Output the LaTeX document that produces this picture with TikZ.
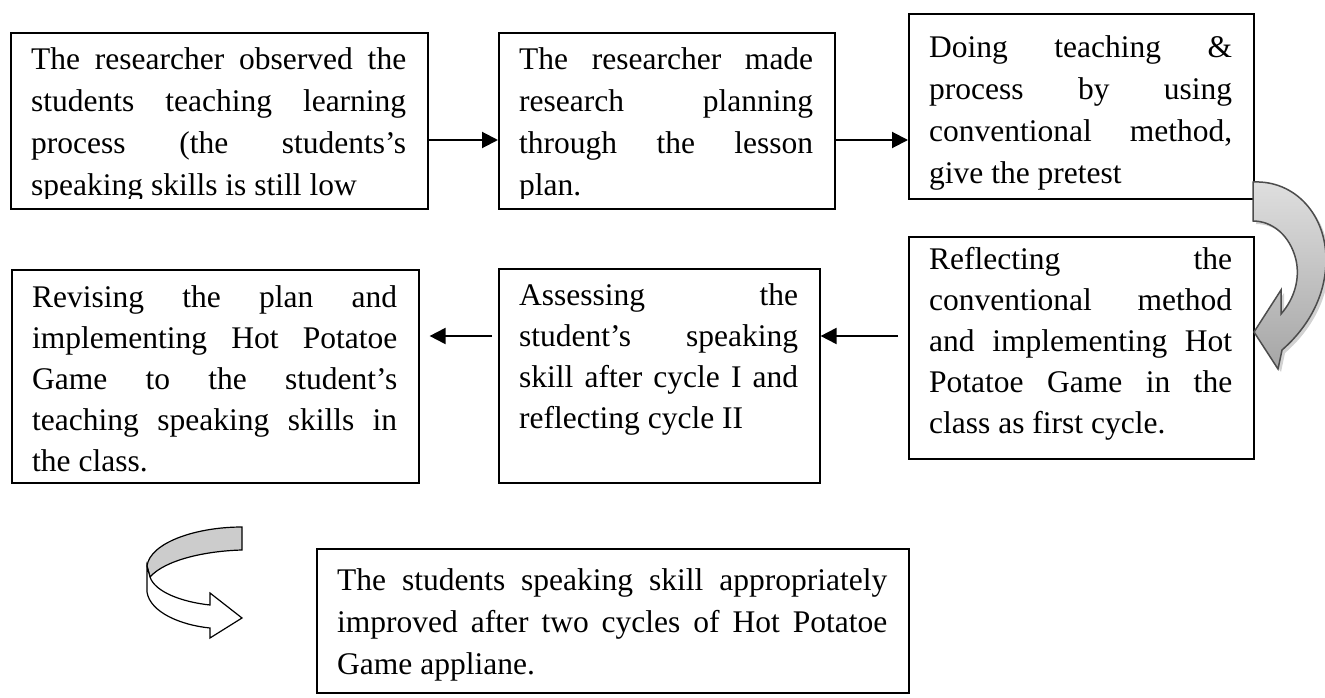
\documentclass[tikz,border=0pt]{standalone}
\usepackage{fontspec}
\setmainfont{Liberation Serif}
\usetikzlibrary{calc}
\usetikzlibrary{arrows.meta}

\tikzset{
  stagebox/.style={draw=black,line width=1.6pt,inner sep=0pt,anchor=north west},
  stagetext/.style={anchor=base west,inner sep=0pt,align=justify,
    font=\fontsize{31.5}{42}\selectfont},
  flow/.style={line width=2pt,-{Triangle[length=16pt,width=16pt]}}
}

\begin{document}
\begin{tikzpicture}[x=1pt,y=-1pt]
    \useasboundingbox (0,0) rectangle (1325,698);
    \coordinate (Row1) at (0,140);
    \coordinate (Row2) at (0,336);
    % boxes
    \node[stagebox,minimum width=417pt,minimum height=176pt] (Observe) at (10,32) {};
    \node[stagebox,minimum width=336pt,minimum height=176pt] (Plan) at (498,32) {};
    \node[stagebox,minimum width=345pt,minimum height=185pt] (Pretest) at (908,13) {};
    \node[stagebox,minimum width=407pt,minimum height=213pt] (Revise) at (11,269) {};
    \node[stagebox,minimum width=321pt,minimum height=214pt] (Assess) at (498,268) {};
    \node[stagebox,minimum width=345pt,minimum height=222pt] (Reflect) at (908,236) {};
    \node[stagebox,minimum width=592pt,minimum height=144pt] (Result) at (316,548) {};
    % texts (the first two run out of their boxes)
    \begin{scope}
      \clip (Observe.north west) rectangle (Observe.east |- 0,198);
      \node[stagetext,text width=375pt] (ObserveText) at (31,70) {The researcher observed the\linebreak students teaching learning\linebreak process (the students's\linebreak speaking skills is still low};
    \end{scope}
    \begin{scope}
      \clip (Plan.north west) rectangle (Plan.east |- 0,198);
      \node[stagetext,text width=294pt] (PlanText) at (519,70) {The researcher made\linebreak research planning\linebreak through the lesson\linebreak plan.};
    \end{scope}
    \node[stagetext,text width=303pt] (PretestText) at (929,58) {Doing teaching \&\linebreak process by using\linebreak conventional method,\linebreak give the pretest};
    \node[stagetext,text width=303pt,font=\fontsize{31.5}{41}\selectfont] (ReflectText) at (929,269) {Reflecting the\linebreak conventional method\linebreak and implementing Hot\linebreak Potatoe Game in the\linebreak class as first cycle.};
    \node[stagetext,text width=279pt,font=\fontsize{31.5}{41}\selectfont] (AssessText) at (519,305) {Assessing the\linebreak student's speaking\linebreak skill after cycle I and\linebreak reflecting cycle II};
    \node[stagetext,text width=365pt,font=\fontsize{31.5}{41}\selectfont] (ReviseText) at (32,307) {Revising the plan and\linebreak implementing Hot Potatoe\linebreak Game to the student's\linebreak teaching speaking skills in\linebreak the class.};
    \node[stagetext,text width=550pt] (ResultText) at (337,590) {The students speaking skill appropriately\linebreak improved after two cycles of Hot Potatoe\linebreak Game appliane.};
    % connectors
    \draw[flow] (Observe.east |- Row1) -- (Plan.west |- Row1);
    \draw[flow] (Plan.east |- Row1) -- (Pretest.west |- Row1);
    \draw[flow] ($(Reflect.west |- Row2)+(-10,0)$) -- (Assess.east |- Row2);
    \draw[flow] ($(Assess.west |- Row2)+(-6,0)$) -- ($(Revise.east |- Row2)+(10,0)$);
    % curved arrow down the right side
    \fill[gray!35] (1256,185) .. controls (1298,183) and (1330,218) .. (1329,265)
      .. controls (1328,303) and (1308,333) .. (1285,353) -- (1281,372) -- (1257,335)
      -- (1284,293) -- (1284,317) .. controls (1298,301) and (1303,281) .. (1299,263)
      .. controls (1293,238) and (1275,224) .. (1256,224) -- cycle;
    \draw[draw=gray!60!black,line width=1.5pt,top color=gray!25,bottom color=gray!70]
      (1253,182) .. controls (1295,180) and (1327,215) .. (1326,262)
      .. controls (1325,300) and (1305,330) .. (1282,350) -- (1278,369) -- (1254,332)
      -- (1281,290) -- (1281,314) .. controls (1295,298) and (1300,278) .. (1296,260)
      .. controls (1290,235) and (1272,221) .. (1253,221) -- cycle;
    % turning arrow at the bottom left
    \draw[line width=1.2pt,fill=gray!40] (242,527) .. controls (195,527) and (150,543) .. (147,566)
      -- (150,577) .. controls (165,560) and (205,551) .. (242,550) -- cycle;
    \draw[line width=1.2pt,fill=white] (147,566) -- (147,592)
      .. controls (150,612) and (180,625) .. (210,628) -- (210,638) -- (242,618)
      -- (210,593) -- (210,605) .. controls (182,602) and (155,592) .. (150,577) -- cycle;
\end{tikzpicture}
\end{document}
